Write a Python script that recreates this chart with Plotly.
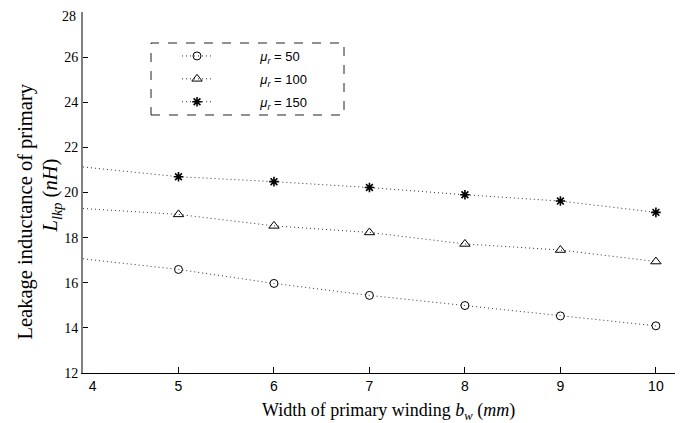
import plotly.graph_objects as go

# Data
x_points = [5, 6, 7, 8, 9, 10]
x_lines = [4, 5, 6, 7, 8, 9, 10]
mu50 = [16.59, 15.97, 15.44, 14.99, 14.53, 14.09]
mu100 = [19.03, 18.52, 18.23, 17.72, 17.45, 16.94]
mu150 = [20.70, 20.48, 20.22, 19.90, 19.62, 19.12]
line_start = {"50": 17.06, "100": 19.29, "150": 21.13}
x_ticks = [4, 5, 6, 7, 8, 9, 10]
x_ticktext = ["\u00a0" * 5 + "4", "5", "6", "7", "8", "9", "10"]
y_ticks = [12, 14, 16, 18, 20, 22, 24, 26, 28]
y_ticktext = ["12", "14", "16", "18", "20", "22", "24", "26", ""]
y_top_label = "28"
y_title_lines = ["Leakage inductance of primary", "<i>L<sub>lkp</sub></i> (<i>nH</i>)"]
x_title = "Width of primary winding <i>b<sub>w</sub></i> (<i>mm</i>)"

series = [
    ("50", mu50, "circle-open", 8, 1),
    ("100", mu100, "triangle-up-open", 9, 1),
    ("150", mu150, "asterisk-open", 8, 1.6),
]

DOT = "1px,3px"
NB = "\u00a0"
SERIF = "Liberation Serif, Times New Roman"
SANS = "Liberation Sans, Arial"

fig = go.Figure()
for name, vals, sym, size, lw in series:
    # dotted line through points, extended to x=4
    fig.add_trace(go.Scatter(
        x=x_lines, y=[line_start[name]] + vals, mode="lines",
        line=dict(color="#333333", width=1, dash=DOT),
        showlegend=False, hoverinfo="skip"))
    fig.add_trace(go.Scatter(
        x=x_points, y=vals, mode="markers",
        marker=dict(symbol=sym, size=size, color="black", line=dict(width=lw, color="black")),
        showlegend=False))
    # legend-only entry
    fig.add_trace(go.Scatter(
        x=[None], y=[None], mode="lines+markers",
        name=NB * 12 + "<i>μ<sub>r</sub></i> = " + name,
        legendgroup=name,
        line=dict(color="#333333", width=1, dash=DOT),
        marker=dict(symbol=sym, size=size, color="black", line=dict(width=lw, color="black"))))

fig.add_shape(type="rect", xref="paper", yref="paper",
              x0=0.1149, x1=0.4409, y0=0.7147, y1=0.9141,
              line=dict(color="#222222", width=1, dash="dash"))

# top y tick label, nudged down so it stays inside the figure
fig.add_annotation(text=y_top_label, xref="paper", yref="y",
                   x=0, y=y_ticks[-1], xanchor="right", yanchor="middle",
                   xshift=-5, yshift=-4, showarrow=False,
                   font=dict(family=SERIF, size=14, color="black"))

# y-axis title, two lines
fig.add_annotation(text=y_title_lines[0], xref="paper", yref="paper",
                   x=-0.0970, y=0.446, xanchor="center", yanchor="middle",
                   textangle=-90, showarrow=False,
                   font=dict(family=SERIF, size=20.5, color="black"))
fig.add_annotation(text=y_title_lines[1], xref="paper", yref="paper",
                   x=-0.0524, y=0.4917, xanchor="center", yanchor="middle",
                   textangle=-90, showarrow=False,
                   font=dict(family=SERIF, size=20.5, color="black"))
# x-axis title
fig.add_annotation(text=x_title, xref="paper", yref="paper",
                   x=0.516, y=-0.0700, xanchor="center", yanchor="top",
                   showarrow=False,
                   font=dict(family=SERIF, size=18, color="black"))

fig.update_layout(
    width=680, height=415,
    margin=dict(l=75, r=13, t=4, b=50),
    paper_bgcolor="white", plot_bgcolor="white",
    showlegend=True,
    legend=dict(x=0.1588, y=0.9197, xanchor="left", yanchor="top",
                bgcolor="rgba(0,0,0,0)", borderwidth=0, tracegroupgap=3,
                font=dict(family=SANS, size=13, color="black")),
    xaxis=dict(range=[4, 10.2], tickvals=x_ticks, ticktext=x_ticktext,
               ticks="inside", ticklen=6, automargin=False,
               tickcolor="black", showline=True, linecolor="black", linewidth=1,
               showgrid=False, zeroline=False,
               tickfont=dict(family=SANS, size=14, color="black")),
    yaxis=dict(range=[12, 28], tickvals=y_ticks, ticktext=y_ticktext,
               ticks="inside", ticklen=5, automargin=False,
               tickcolor="black", showline=True, linecolor="#808080", linewidth=2,
               showgrid=False, zeroline=False,
               tickfont=dict(family=SERIF, size=14, color="black")),
)

fig.write_html("out.html")
